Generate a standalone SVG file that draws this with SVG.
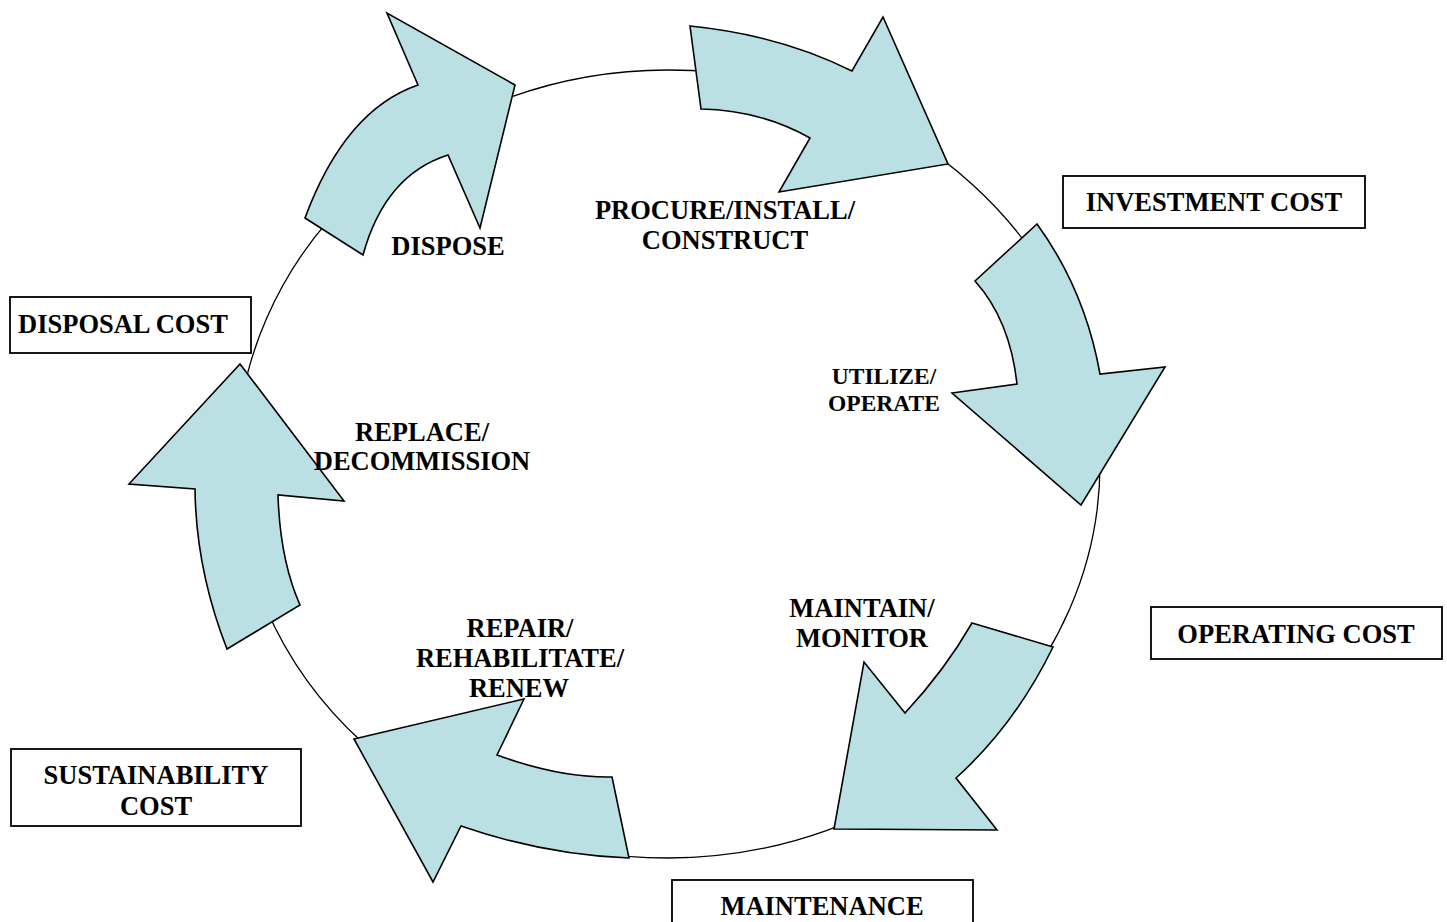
<svg xmlns="http://www.w3.org/2000/svg" width="1447" height="922" viewBox="0 0 1447 922">
<style>
.arrow{fill:#BBE0E3;stroke:#000;stroke-width:1.6;stroke-linejoin:miter}
.ring{fill:none;stroke:#000;stroke-width:1.3}
.box{fill:#fff;stroke:#000;stroke-width:1.8}
text{font-family:"Liberation Serif","Times New Roman",serif;font-weight:bold;font-size:26.5px;fill:#000}
.c{text-anchor:middle}
.s{font-size:23.5px}
</style>
<rect width="1447" height="922" fill="#fff"/>
<g id="connectors">
<ellipse class="ring" cx="668" cy="464" rx="432" ry="394"/>
</g>
<g id="dispose">
<path class="arrow" d="M305,218 L363,255 Q385,175 448,155 L480,228 L515,85 L387,13 L418,85 Q345,110 305,218 Z"/>
<text class="c" x="448" y="255">DISPOSE</text>
</g>
<g id="procure">
<path class="arrow" d="M690,26 L701,109 Q760,110 810,138 L779,192 L948,164 L883,17 L852,71 Q780,35 690,26 Z"/>
<text class="c" x="725" y="219">PROCURE/INSTALL/</text>
<text class="c" x="725" y="249">CONSTRUCT</text>
</g>
<g id="utilize">
<path class="arrow" d="M1037,224 L975,281 Q1010,320 1017,384 L952,393 L1081,505 L1165,367 L1100,374 Q1085,290 1037,224 Z"/>
<text class="c s" x="884" y="384">UTILIZE/</text>
<text class="c s" x="884" y="411">OPERATE</text>
</g>
<g id="maintain">
<path class="arrow" d="M972,623 L1053,647 Q1015,725 956,778 L997,830 L834,829 L864,662 L905,713 Q945,670 972,623 Z"/>
<text class="c" x="862" y="617">MAINTAIN/</text>
<text class="c" x="862" y="647">MONITOR</text>
</g>
<g id="repair">
<path class="arrow" d="M612,777 L629,858 Q545,855 461,826 L433,882 L354,739 L524,699 L497,755 Q560,778 612,777 Z"/>
<text class="c" x="520" y="637">REPAIR/</text>
<text class="c" x="520" y="667">REHABILITATE/</text>
<text class="c" x="519" y="697">RENEW</text>
</g>
<g id="replace">
<path class="arrow" d="M240,364 L344,501 L278,495 Q280,560 300,605 L227,649 Q196,570 195,489 L129,484 Z"/>
<text class="c" x="422" y="441">REPLACE/</text>
<text class="c" x="422" y="470">DECOMMISSION</text>
</g>
<g id="investment-cost">
<rect class="box" x="1063" y="176" width="302" height="52"/>
<text class="c" x="1214" y="211">INVESTMENT COST</text>
</g>
<g id="operating-cost">
<rect class="box" x="1151" y="607" width="291" height="52"/>
<text class="c" x="1296" y="643">OPERATING COST</text>
</g>
<g id="maintenance">
<rect class="box" x="672" y="880" width="301" height="56"/>
<text class="c" x="822" y="915">MAINTENANCE</text>
</g>
<g id="sustainability-cost">
<rect class="box" x="11" y="749" width="290" height="77"/>
<text class="c" x="156" y="784">SUSTAINABILITY</text>
<text class="c" x="156" y="815">COST</text>
</g>
<g id="disposal-cost">
<rect class="box" x="10" y="297" width="241" height="56"/>
<text x="18" y="333">DISPOSAL COST</text>
</g>
</svg>
